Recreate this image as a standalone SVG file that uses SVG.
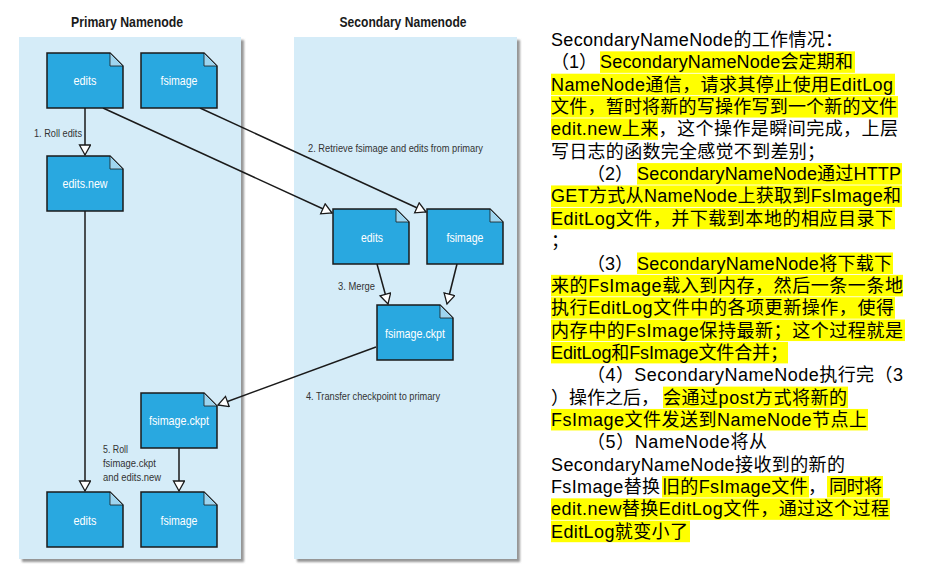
<svg xmlns="http://www.w3.org/2000/svg" xmlns:xlink="http://www.w3.org/1999/xlink" width="939" height="575" viewBox="0 0 939 575">
<style>
.panel{fill:#d5ecf8;filter:url(#sh)}
.title{font-family:"Liberation Sans Narrow","Liberation Sans",sans-serif;font-weight:bold;font-size:14px;fill:#1a1a1a;text-anchor:middle}
.doc{fill:#29a8e0;stroke:#1a1a1a;stroke-width:1.5;stroke-linejoin:miter}
.fold{fill:#9fd5ef;stroke:#1a1a1a;stroke-width:0.8}
.nl{font-family:"Liberation Sans Narrow","Liberation Sans",sans-serif;font-size:13px;fill:#ffffff;text-anchor:middle}
.lbl{font-family:"Liberation Sans Narrow","Liberation Sans",sans-serif;font-size:11.5px;fill:#333333}
.conn{fill:none;stroke:#1a1a1a;stroke-width:1.5;marker-end:url(#arr)}
.hl{fill:#ffff00}
.tx{font-family:"Liberation Sans","Noto Sans CJK SC",sans-serif;font-size:18px;fill:#000000}
</style>
<defs>
<filter id="sh" x="-5%" y="-5%" width="115%" height="115%">
<feDropShadow dx="3" dy="3" stdDeviation="1.2" flood-color="#8a8a8a" flood-opacity="0.9"/>
</filter>
<marker id="arr" markerUnits="userSpaceOnUse" markerWidth="14" markerHeight="14" refX="11" refY="6" orient="auto">
<path d="M1,0.5 L11,6 L1,11.5 Z" fill="#ffffff" stroke="#1a1a1a" stroke-width="1.3"/>
</marker>
<g id="docshape">
<path class="doc" d="M0,0 H63 L76,13 V55 H0 Z"/>
<path class="fold" d="M63,0 L76,13 H63 Z"/>
</g>
</defs>

<rect width="939" height="575" fill="#ffffff"/>

<g id="panels">
<rect class="panel" x="19" y="37" width="222" height="522"/>
<rect class="panel" x="294" y="37" width="223" height="522"/>
<text class="title" x="127" y="27" textLength="112" lengthAdjust="spacingAndGlyphs">Primary Namenode</text>
<text class="title" x="403" y="27" textLength="127" lengthAdjust="spacingAndGlyphs">Secondary Namenode</text>
</g>

<g id="connectors">
<line class="conn" x1="85" y1="108" x2="85" y2="155"/>
<line class="conn" x1="85" y1="211" x2="85" y2="491"/>
<line class="conn" x1="179" y1="448" x2="179" y2="491"/>
<line class="conn" x1="103" y1="108" x2="332" y2="213"/>
<line class="conn" x1="200" y1="108" x2="426" y2="212"/>
<line class="conn" x1="377" y1="264" x2="388" y2="304"/>
<line class="conn" x1="457" y1="264" x2="447" y2="304"/>
<line class="conn" x1="376" y1="347" x2="218" y2="405"/>
<text class="lbl" x="34" y="137" textLength="48" lengthAdjust="spacingAndGlyphs">1. Roll edits</text>
<text class="lbl" x="308" y="152" textLength="175" lengthAdjust="spacingAndGlyphs">2. Retrieve fsimage and edits from primary</text>
<text class="lbl" x="338" y="290" textLength="37" lengthAdjust="spacingAndGlyphs">3. Merge</text>
<text class="lbl" x="306" y="400" textLength="134" lengthAdjust="spacingAndGlyphs">4. Transfer checkpoint to primary</text>
<text class="lbl" x="103" y="453" textLength="25" lengthAdjust="spacingAndGlyphs">5. Roll</text>
<text class="lbl" x="103" y="467" textLength="53" lengthAdjust="spacingAndGlyphs">fsimage.ckpt</text>
<text class="lbl" x="103" y="481" textLength="58" lengthAdjust="spacingAndGlyphs">and edits.new</text>
</g>

<g id="p-edits">
<use xlink:href="#docshape" transform="translate(47,53)"/>
<text class="nl" x="85" y="85" textLength="23" lengthAdjust="spacingAndGlyphs">edits</text>
</g>
<g id="p-fsimage">
<use xlink:href="#docshape" transform="translate(141,53)"/>
<text class="nl" x="179" y="85" textLength="37" lengthAdjust="spacingAndGlyphs">fsimage</text>
</g>
<g id="p-edits-new">
<use xlink:href="#docshape" transform="translate(47,156)"/>
<text class="nl" x="85" y="188" textLength="45" lengthAdjust="spacingAndGlyphs">edits.new</text>
</g>
<g id="p-fsimage-ckpt">
<use xlink:href="#docshape" transform="translate(141,393)"/>
<text class="nl" x="179" y="425" textLength="60" lengthAdjust="spacingAndGlyphs">fsimage.ckpt</text>
</g>
<g id="p-edits-final">
<use xlink:href="#docshape" transform="translate(47,492)"/>
<text class="nl" x="85" y="525" textLength="23" lengthAdjust="spacingAndGlyphs">edits</text>
</g>
<g id="p-fsimage-final">
<use xlink:href="#docshape" transform="translate(141,492)"/>
<text class="nl" x="179" y="525" textLength="37" lengthAdjust="spacingAndGlyphs">fsimage</text>
</g>
<g id="s-edits">
<use xlink:href="#docshape" transform="translate(333,209)"/>
<text class="nl" x="372" y="242" textLength="22" lengthAdjust="spacingAndGlyphs">edits</text>
</g>
<g id="s-fsimage">
<use xlink:href="#docshape" transform="translate(427,209)"/>
<text class="nl" x="465" y="242" textLength="37" lengthAdjust="spacingAndGlyphs">fsimage</text>
</g>
<g id="s-fsimage-ckpt">
<use xlink:href="#docshape" transform="translate(377,305)"/>
<text class="nl" x="415" y="338" textLength="60" lengthAdjust="spacingAndGlyphs">fsimage.ckpt</text>
</g>

<g id="description">
<rect class="hl" x="600" y="51.35" width="255" height="21.5"/>
<rect class="hl" x="551" y="73.7" width="344" height="21.5"/>
<rect class="hl" x="551" y="96.05" width="347" height="21.5"/>
<rect class="hl" x="551" y="118.4" width="107" height="21.5"/>
<rect class="hl" x="637" y="163.1" width="265" height="21.5"/>
<rect class="hl" x="551" y="185.45" width="351" height="21.5"/>
<rect class="hl" x="551" y="207.8" width="344" height="21.5"/>
<rect class="hl" x="637" y="252.5" width="256" height="21.5"/>
<rect class="hl" x="551" y="274.85" width="352" height="21.5"/>
<rect class="hl" x="551" y="297.2" width="344" height="21.5"/>
<rect class="hl" x="551" y="319.55" width="354" height="21.5"/>
<rect class="hl" x="551" y="341.9" width="237" height="21.5"/>
<rect class="hl" x="663" y="386.6" width="185" height="21.5"/>
<rect class="hl" x="551" y="408.95" width="317" height="21.5"/>
<rect class="hl" x="662" y="476" width="147" height="21.5"/>
<rect class="hl" x="827" y="476" width="56" height="21.5"/>
<rect class="hl" x="551" y="498.35" width="339" height="21.5"/>
<rect class="hl" x="551" y="520.7" width="139" height="21.5"/>

<text class="tx" x="551" y="46" textLength="292">SecondaryNameNode的工作情况：</text>
<text class="tx" y="68.35"><tspan x="551">（1）</tspan><tspan x="600" textLength="253">SecondaryNameNode会定期和</tspan></text>
<text class="tx" x="551" y="90.7" textLength="342">NameNode通信，请求其停止使用EditLog</text>
<text class="tx" x="551" y="113.05" textLength="346">文件，暂时将新的写操作写到一个新的文件</text>
<text class="tx" x="551" y="135.4" textLength="347">edit.new上来，这个操作是瞬间完成，上层</text>
<text class="tx" x="551" y="157.75" textLength="274">写日志的函数完全感觉不到差别；</text>
<text class="tx" y="180.1"><tspan x="587">（2）</tspan><tspan x="637" textLength="264">SecondaryNameNode通过HTTP</tspan></text>
<text class="tx" x="551" y="202.45" textLength="350">GET方式从NameNode上获取到FsImage和</text>
<text class="tx" x="551" y="224.8" textLength="342">EditLog文件，并下载到本地的相应目录下</text>
<text class="tx" x="551" y="247.15">；</text>
<text class="tx" y="269.5"><tspan x="587">（3）</tspan><tspan x="637" textLength="255">SecondaryNameNode将下载下</tspan></text>
<text class="tx" x="551" y="291.85" textLength="352">来的FsImage载入到内存，然后一条一条地</text>
<text class="tx" x="551" y="314.2" textLength="343">执行EditLog文件中的各项更新操作，使得</text>
<text class="tx" x="551" y="336.55" textLength="352">内存中的FsImage保持最新；这个过程就是</text>
<text class="tx" x="551" y="358.9" textLength="237">EditLog和FsImage文件合并；</text>
<text class="tx" x="587" y="381.25" textLength="316">（4）SecondaryNameNode执行完（3</text>
<text class="tx" y="403.6"><tspan x="551">）操作之后，</tspan><tspan x="663" textLength="184">会通过post方式将新的</tspan></text>
<text class="tx" x="551" y="425.95" textLength="316">FsImage文件发送到NameNode节点上</text>
<text class="tx" x="587" y="448.3" textLength="180">（5）NameNode将从</text>
<text class="tx" x="551" y="470.65" textLength="294">SecondaryNameNode接收到的新的</text>
<text class="tx" y="493"><tspan x="551" textLength="109">FsImage替换</tspan><tspan x="662" textLength="164">旧的FsImage文件，</tspan><tspan x="829" textLength="53">同时将</tspan></text>
<text class="tx" x="551" y="515.35" textLength="338">edit.new替换EditLog文件，通过这个过程</text>
<text class="tx" x="551" y="537.7" textLength="137">EditLog就变小了</text>
</g>
</svg>
